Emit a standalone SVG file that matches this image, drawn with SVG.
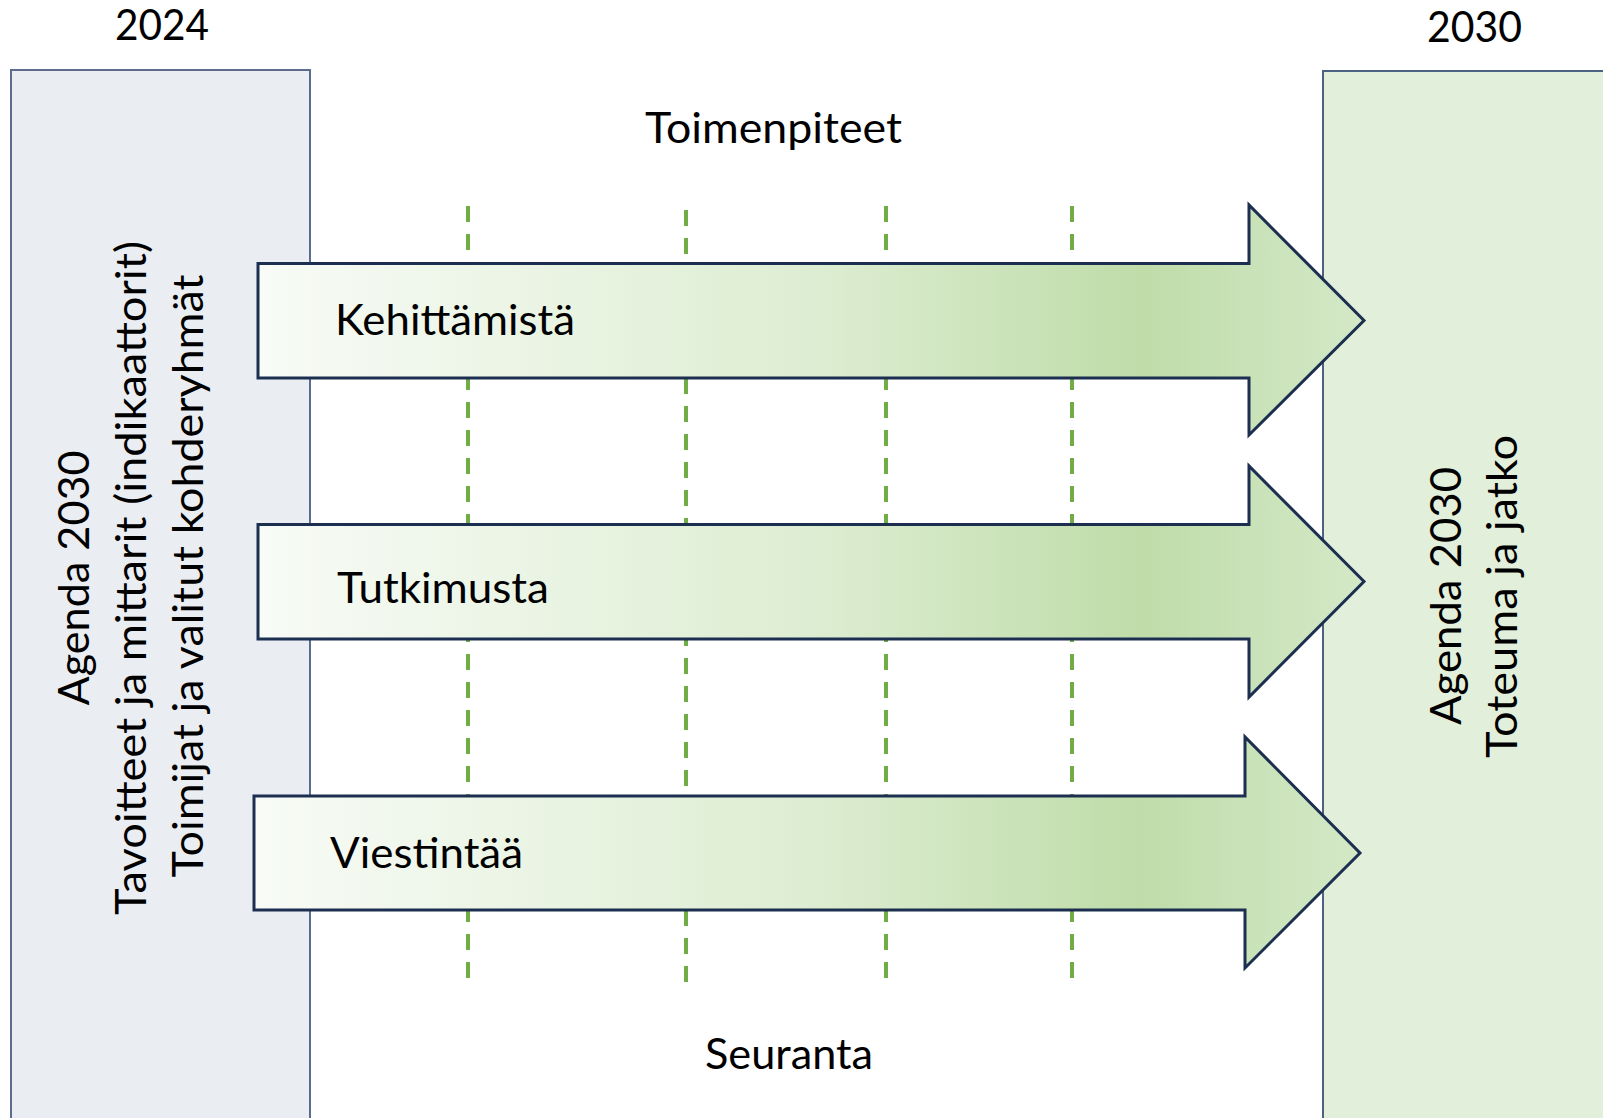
<svg xmlns="http://www.w3.org/2000/svg" width="1603" height="1118" viewBox="0 0 1603 1118">
<defs>
<linearGradient id="g" x1="0" y1="0" x2="1" y2="0">
<stop offset="0" stop-color="#f8fbf6"/>
<stop offset="0.5" stop-color="#ddedd2"/>
<stop offset="0.8" stop-color="#bfdca9"/>
<stop offset="1" stop-color="#d4e8c7"/>
</linearGradient>
</defs>
<style>
text{font-family:Lato,"Open Sans","Liberation Sans",sans-serif;font-size:42px;fill:#000}
.box{stroke-width:2}
.dash{stroke:#70ad47;stroke-width:4;stroke-dasharray:16 12;fill:none}
.arrow{fill:url(#g);stroke:#1c2f50;stroke-width:3;stroke-linejoin:miter}
</style>
<rect width="1603" height="1118" fill="#fff"/>
<g id="start-box">
<rect class="box" x="11" y="70" width="299" height="1060" fill="#eaedf2" stroke="#5b6c8f"/>
<text transform="translate(89,578) rotate(-90)" text-anchor="middle" textLength="255" lengthAdjust="spacingAndGlyphs">Agenda 2030</text>
<text transform="translate(146,578) rotate(-90)" text-anchor="middle" textLength="674" lengthAdjust="spacingAndGlyphs">Tavoitteet ja mittarit (indikaattorit)</text>
<text transform="translate(203,576) rotate(-90)" text-anchor="middle" textLength="603" lengthAdjust="spacingAndGlyphs">Toimijat ja valitut kohderyhmät</text>
</g>
<g id="end-box">
<rect class="box" x="1323" y="71" width="300" height="1060" fill="#e2efda" stroke="#4d6282"/>
<text transform="translate(1461,596) rotate(-90)" text-anchor="middle" textLength="258" lengthAdjust="spacingAndGlyphs">Agenda 2030</text>
<text transform="translate(1517,596.5) rotate(-90)" text-anchor="middle" textLength="323" lengthAdjust="spacingAndGlyphs">Toteuma ja jatko</text>
</g>
<g id="labels">
<text x="115" y="40" textLength="94" lengthAdjust="spacingAndGlyphs">2024</text>
<text x="1427" y="41.5" textLength="95" lengthAdjust="spacingAndGlyphs">2030</text>
<text x="645" y="142.5" textLength="257" lengthAdjust="spacingAndGlyphs">Toimenpiteet</text>
<text x="705" y="1068.5" textLength="168" lengthAdjust="spacingAndGlyphs">Seuranta</text>
</g>
<g id="connectors">
<line class="dash" x1="468" y1="206" x2="468" y2="978"/>
<line class="dash" x1="686" y1="210" x2="686" y2="982"/>
<line class="dash" x1="886" y1="206" x2="886" y2="978"/>
<line class="dash" x1="1072" y1="206" x2="1072" y2="978"/>
</g>
<g id="arrow-kehittamista">
<polygon class="arrow" points="258,263.5 1249,263.5 1249,205 1364,320.5 1249,435 1249,378 258,378"/>
<text x="335" y="335" textLength="240" lengthAdjust="spacingAndGlyphs">Kehittämistä</text>
</g>
<g id="arrow-tutkimusta">
<polygon class="arrow" points="258,524.5 1249,524.5 1249,466 1364,581.5 1249,697 1249,639 258,639"/>
<text x="337" y="602.5" textLength="212" lengthAdjust="spacingAndGlyphs">Tutkimusta</text>
</g>
<g id="arrow-viestintaa">
<polygon class="arrow" points="254,796 1245,796 1245,737 1360,853 1245,968 1245,910 254,910"/>
<text x="330" y="868" textLength="193" lengthAdjust="spacingAndGlyphs">Viestintää</text>
</g>
</svg>
